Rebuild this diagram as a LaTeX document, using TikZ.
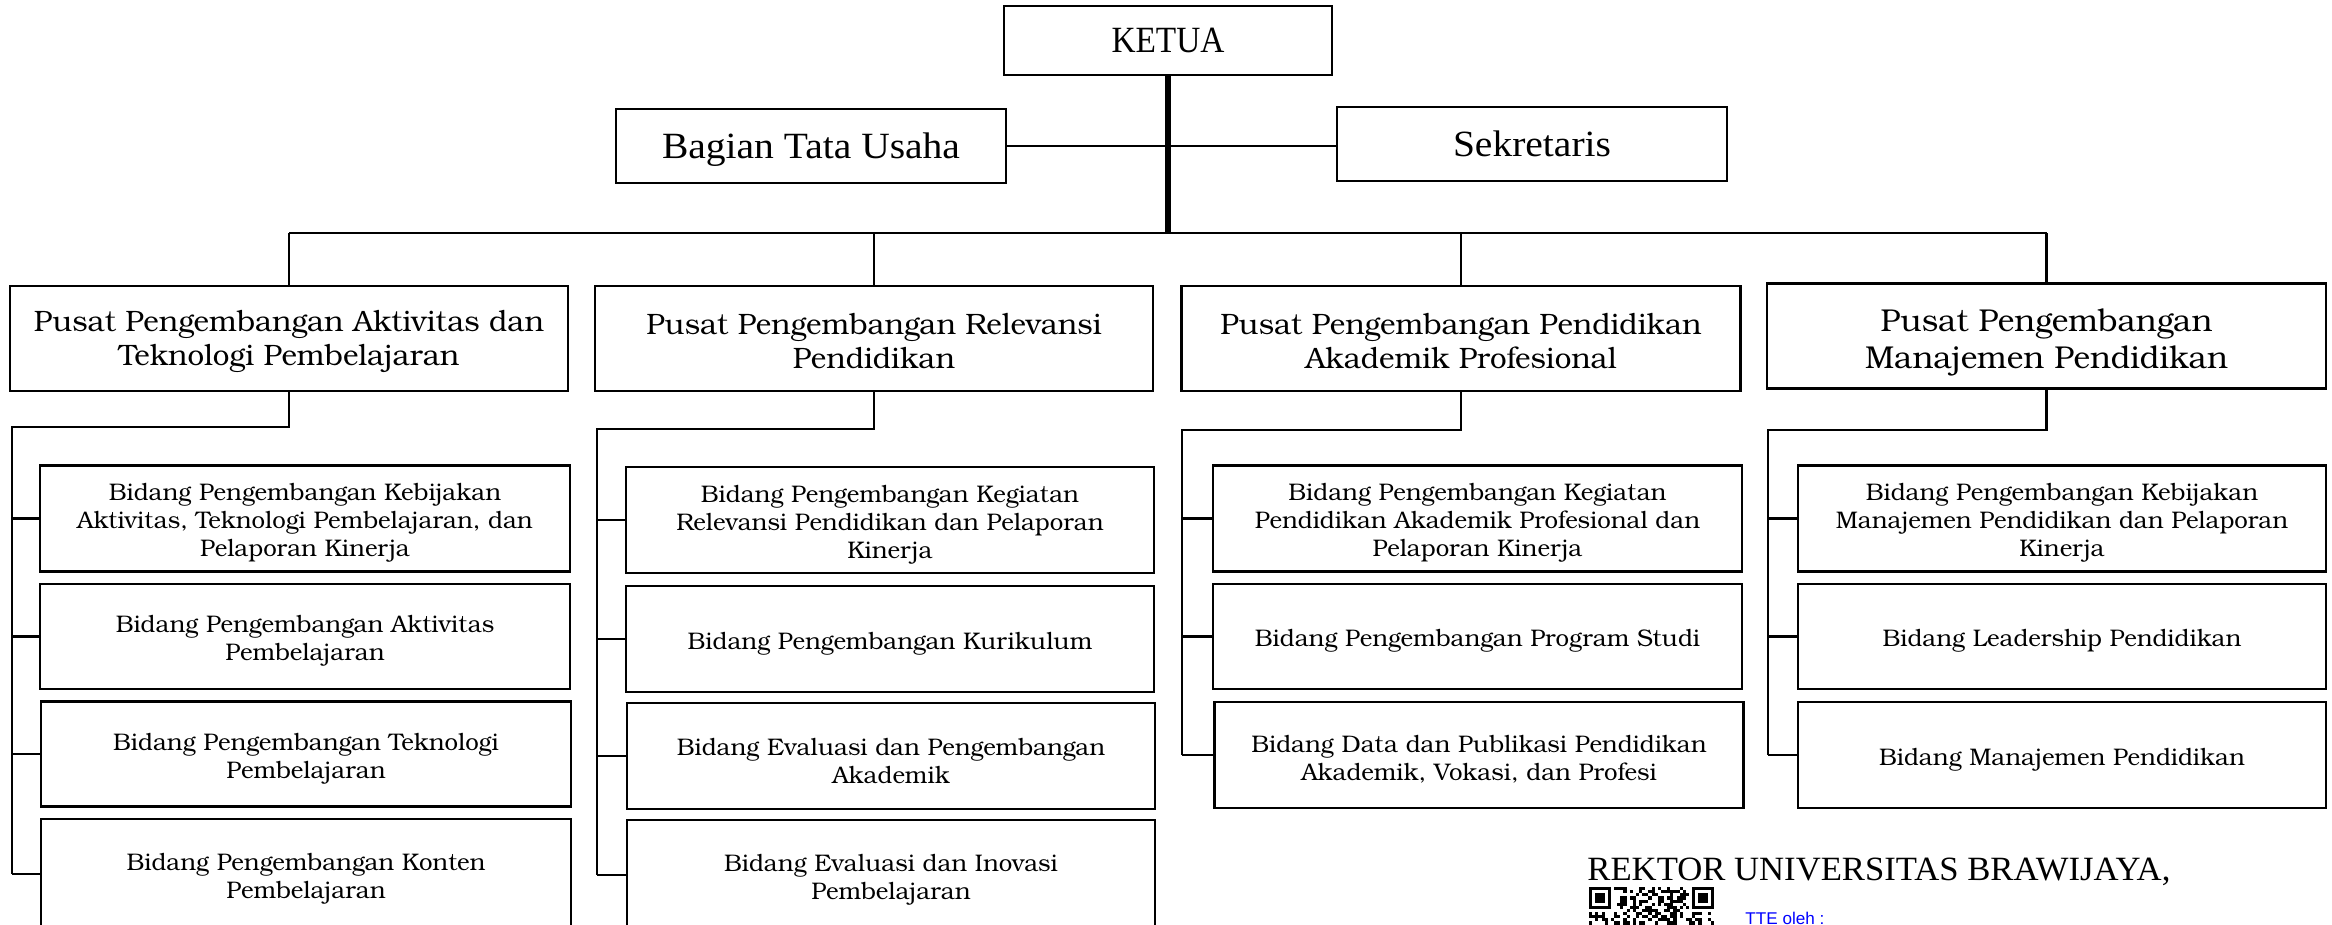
\documentclass[tikz,border=0pt]{standalone}
\usepackage{fontspec}
\usepackage{graphicx}
\setmainfont{TeX Gyre Bonum}
\newfontfamily\tnr{Liberation Serif}
\newfontfamily\sansf{Liberation Sans}
\newcommand{\fitw}[2]{\resizebox{#1}{\height}{#2}}
\tikzset{
  sz/.style 2 args={minimum width=#1*0.5pt, minimum height=#2*0.5pt},
  box/.style={draw, line width=1.3pt, inner sep=0pt},
  ptxt/.style={align=center, inner sep=0pt, font=\fontsize{14.75}{17}\selectfont, yshift=-1.5pt},
  pbtxt/.style={align=center, inner sep=0pt, font=\fontsize{15.8}{18.5}\selectfont, yshift=-3pt},
  btxt/.style={align=center, inner sep=0pt, font=\fontsize{12}{14}\selectfont, yshift=-2.25pt},
  top/.style={box, font=\tnr, text depth=0pt},
  conn/.style={line width=1.2pt, line join=miter},
  spine/.style={line width=2.8pt}
}
\begin{document}
\begin{tikzpicture}[x=0.5pt,y=-0.5pt]
\useasboundingbox[fill=white] (0,0) rectangle (2332,925);

% top level
\node[top, sz={328}{69}] (ketua) at (1168,40.5) {\fitw{56.5pt}{\fontsize{18.5}{22}\selectfont KETUA}};
\node[top, sz={390}{74}] (tu) at (811,146) {\fitw{149pt}{\fontsize{18.5}{22}\selectfont Bagian Tata Usaha}};
\node[top, sz={390}{74}] (sek) at (1532,144) {\fitw{79pt}{\fontsize{18.5}{22}\selectfont Sekretaris}};

\coordinate (bar) at (1168,233);
\draw[spine] (ketua.south) -- (ketua.south |- bar);
\draw[conn] (tu.east) -- (tu.east -| sek.west);

% pusat
\node[box, sz={558}{105}, label={[ptxt, name=p1t]center:{Pusat Pengembangan Aktivitas dan\\Teknologi Pembelajaran}}] (p1) at (289,338.5) {};
\node[box, sz={558}{105}, label={[ptxt, name=p2t]center:{Pusat Pengembangan Relevansi\\Pendidikan}}] (p2) at (874,338.5) {};
\node[box, sz={559}{105}, label={[ptxt, name=p3t]center:{Pusat Pengembangan Pendidikan\\Akademik Profesional}}] (p3) at (1461,338.5) {};
\node[box, sz={559}{105}, label={[pbtxt, name=p4t]center:{Pusat Pengembangan\\Manajemen Pendidikan}}] (p4) at (2046.5,336) {};

\draw[conn] (p1.north |- bar) -- (p4.north |- bar);
\foreach \p in {p1,p2,p3,p4} \draw[conn] (\p.north) -- (\p.north |- bar);

% column 1
\node[box, sz={530}{106}, label={[btxt, name=a1t]center:{Bidang Pengembangan Kebijakan\\Aktivitas, Teknologi Pembelajaran, dan\\Pelaporan Kinerja}}] (a1) at (305,518.5) {};
\node[box, sz={530}{105}, label={[btxt, name=a2t]center:{Bidang Pengembangan Aktivitas\\Pembelajaran}}] (a2) at (305,636.5) {};
\node[box, sz={530}{105}, label={[btxt, name=a3t]center:{Bidang Pengembangan Teknologi\\Pembelajaran}}] (a3) at (306,754) {};
\node[box, sz={530}{110}, label={[btxt, name=a4t]center:{Bidang Pengembangan Konten\\Pembelajaran}}] (a4) at (306,874) {};
% column 2
\node[box, sz={528}{106}, label={[btxt, name=b1t]center:{Bidang Pengembangan Kegiatan\\Relevansi Pendidikan dan Pelaporan\\Kinerja}}] (b1) at (890,520) {};
\node[box, sz={528}{106}, label={[btxt, name=b2t]center:{Bidang Pengembangan Kurikulum}}] (b2) at (890,639) {};
\node[box, sz={528}{106}, label={[btxt, name=b3t]center:{Bidang Evaluasi dan Pengembangan\\Akademik}}] (b3) at (891,756) {};
\node[box, sz={528}{110}, label={[btxt, name=b4t]center:{Bidang Evaluasi dan Inovasi\\Pembelajaran}}] (b4) at (891,875) {};
% column 3
\node[box, sz={529}{106}, label={[btxt, name=c1t]center:{Bidang Pengembangan Kegiatan\\Pendidikan Akademik Profesional dan\\Pelaporan Kinerja}}] (c1) at (1477.5,518.5) {};
\node[box, sz={529}{105}, label={[btxt, name=c2t]center:{Bidang Pengembangan Program Studi}}] (c2) at (1477.5,636.5) {};
\node[box, sz={529}{106}, label={[btxt, name=c3t]center:{Bidang Data dan Publikasi Pendidikan\\Akademik, Vokasi, dan Profesi}}] (c3) at (1479,755) {};
% column 4
\node[box, sz={528}{106}, label={[btxt, name=d1t]center:{Bidang Pengembangan Kebijakan\\Manajemen Pendidikan dan Pelaporan\\Kinerja}}] (d1) at (2062,518.5) {};
\node[box, sz={528}{105}, label={[btxt, name=d2t]center:{Bidang Leadership Pendidikan}}] (d2) at (2062,636.5) {};
\node[box, sz={528}{106}, label={[btxt, name=d3t]center:{Bidang Manajemen Pendidikan}}] (d3) at (2062,755) {};

% sub spines
\coordinate (s1) at (12,427);
\coordinate (s2) at (597,429);
\coordinate (s3) at (1182,430);
\coordinate (s4) at (1768,430);
\draw[conn] (p1.south) |- (s1) -- (s1 |- a4.west);
\draw[conn] (p2.south) |- (s2) -- (s2 |- b4.west);
\draw[conn] (p3.south) |- (s3) -- (s3 |- c3.west);
\draw[conn] (p4.south) |- (s4) -- (s4 |- d3.west);
\foreach \c in {a1,a2,a3,a4} \draw[conn] (s1 |- \c.west) -- (\c.west);
\foreach \c in {b1,b2,b3,b4} \draw[conn] (s2 |- \c.west) -- (\c.west);
\foreach \c in {c1,c2,c3} \draw[conn] (s3 |- \c.west) -- (\c.west);
\foreach \c in {d1,d2,d3} \draw[conn] (s4 |- \c.west) -- (\c.west);

% signature
\node[anchor=base west, inner sep=0pt] (rektor) at (1587,880) {\fitw{291.5pt}{\tnr\fontsize{17}{20}\selectfont REKTOR UNIVERSITAS BRAWIJAYA,}};
\node[anchor=base west, inner sep=0pt, text=blue] (tte) at (1745,924) {\fitw{39.5pt}{\sansf\fontsize{8.5}{10}\selectfont TTE oleh :}};

% QR code (partial)
\begin{scope}[shift={(1589,887)}]
  \pgfmathsetseed{7}
  \foreach \i in {0,...,39}{\foreach \j in {0,...,12}{%
    \pgfmathtruncatemacro\rv{rnd*2}%
    \ifnum\rv=1 \fill (\i*3.125,\j*3.125) rectangle ++(3.125,3.125);\fi}}
  \foreach \ox in {0,103.125}{%
    \fill[white] (\ox-3.125,0) rectangle ++(28.125,25);
    \fill (\ox,0) rectangle ++(21.875,21.875);
    \fill[white] (\ox+3.125,3.125) rectangle ++(15.625,15.625);
    \fill (\ox+6.25,6.25) rectangle ++(9.375,9.375);}
  \fill[white] (-3.125,0) rectangle (0,30);
\end{scope}
\end{tikzpicture}
\end{document}
